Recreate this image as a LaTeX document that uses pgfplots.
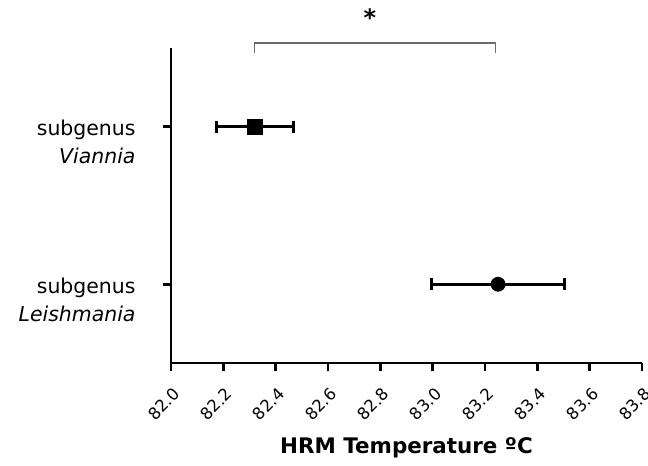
\documentclass[border=0pt]{standalone}
\usepackage{fontspec}
\setmainfont{DejaVu Sans}
\usepackage{pgfplots}
\pgfplotsset{compat=1.18}
\begin{document}
\begin{tikzpicture}
\useasboundingbox (-171bp,-103bp) rectangle (477bp,363bp);
\begin{axis}[
  at={(0,0)}, anchor=south west,
  scale only axis, width=471bp, height=315bp,
  xmin=82.0, xmax=83.8, ymin=0.5, ymax=2.5,
  axis lines=left,
  axis line style={-, line width=2.8bp},
  clip=false,
  xtick={82.0,82.2,82.4,82.6,82.8,83.0,83.2,83.4,83.6,83.8},
  xticklabels={82.0,82.2,82.4,82.6,82.8,83.0,83.2,83.4,83.6,83.8},
  ytick={1,2},
  yticklabels={{subgenus\\\textit{Leishmania}},{subgenus\\\textit{Viannia}}},
  tick align=outside,
  major tick length=8bp,
  tick style={line width=2.8bp, black},
  xticklabel style={rotate=45, anchor=north east, font=\fontsize{16.5}{20}\selectfont, xshift=-6.8bp, yshift=-8.6bp},
  yticklabel style={align=right, anchor=base east, font=\fontsize{20.5}{28}\selectfont, xshift=-24bp, yshift=-37bp},
  xlabel={\textbf{HRM Temperature ºC}},
  xlabel style={font=\fontsize{21.5}{24}\selectfont, yshift=-8bp},
]
\addplot[black, line width=2.8bp, mark=square*, mark size=6.5bp,
  error bars/.cd, x dir=both, x explicit,
  error bar style={line width=2.8bp},
  error mark options={rotate=90, line width=2.8bp, mark size=6bp, black}]
  coordinates {(82.32,2) +- (0.147,0)};
\addplot[black, line width=2.8bp, mark=*, mark size=6bp,
  error bars/.cd, x dir=both, x explicit,
  error bar style={line width=2.8bp},
  error mark options={rotate=90, line width=2.8bp, mark size=6bp, black}]
  coordinates {(83.25,1) +- (0.253,0)};
\addplot[gray!85!black, line width=1.3bp, mark=none]
  coordinates {(82.32,2.468) (82.32,2.532) (83.24,2.532) (83.24,2.468)};
\node[font=\bfseries\fontsize{24}{24}\selectfont] at (axis cs:82.76,2.69) {*};
\end{axis}
\end{tikzpicture}
\end{document}
